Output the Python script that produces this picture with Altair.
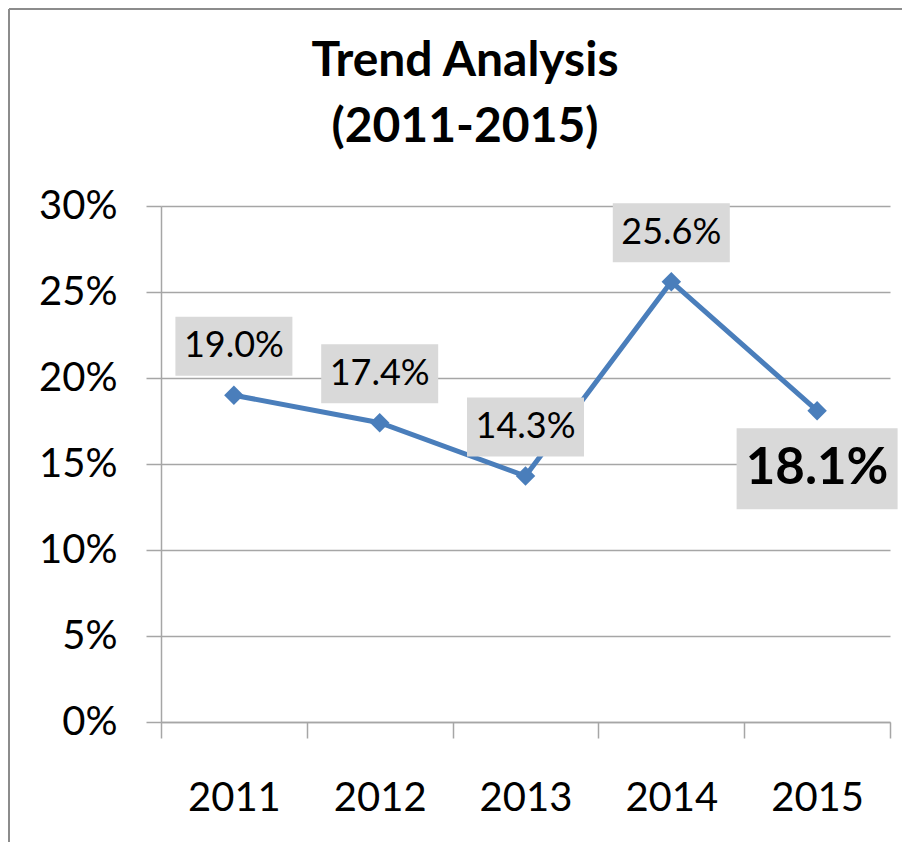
import altair as alt
import pandas as pd

years = ["2011", "2012", "2013", "2014", "2015"]
rates = [0.190, 0.174, 0.143, 0.256, 0.181]
y_ticks = [0, 0.05, 0.10, 0.15, 0.20, 0.25, 0.30]
title_lines = ["Trend Analysis", "(2011-2015)"]
highlight_year = "2015"

df = pd.DataFrame({"year": years, "rate": rates})

FONT = "Lato"
BLUE = "#4a7ebb"
GRID = "#a6a6a6"
BOX = "#d9d9d9"

x = alt.X(
    "year:N", sort=years,
    scale=alt.Scale(paddingInner=0, paddingOuter=0),
    axis=alt.Axis(title=None, labelAngle=0, labelFontSize=40, labelFont=FONT,
                  labelColor="black", tickBand="extent", tickSize=16,
                  tickColor=GRID, tickWidth=1.5, domainColor=GRID,
                  domainWidth=1.5, labelPadding=40, grid=False),
)
y = alt.Y(
    "rate:Q",
    scale=alt.Scale(domain=[0, 0.3]),
    axis=alt.Axis(title=None, values=y_ticks, format=".0%", labelFontSize=40,
                  labelFont=FONT, labelColor="black", tickSize=15,
                  tickColor=GRID, tickWidth=1.5, domainColor=GRID,
                  domainWidth=1.5, gridColor=GRID, gridWidth=1.5,
                  labelPadding=29),
)

base = alt.Chart(df).encode(x=x, y=y)
line = base.mark_line(color=BLUE, strokeWidth=5)
pts = base.mark_point(shape="diamond", filled=True, color=BLUE, size=380, opacity=1)

normal = base.transform_filter(alt.datum.year != highlight_year)
boxes = normal.mark_point(shape="M-1,-0.5043H1V0.5043H-1Z", size=13689, filled=True,
                          color=BOX, strokeWidth=0, opacity=1, yOffset=-49)
labels = normal.mark_text(font=FONT, fontSize=36, color="black", yOffset=-49,
                          baseline="middle").encode(text=alt.Text("rate:Q", format=".1%"))

hl = base.transform_filter(alt.datum.year == highlight_year)
hbox = hl.mark_point(shape="M-1,-0.5031H1V0.5031H-1Z", size=25921, filled=True,
                     color=BOX, strokeWidth=0, opacity=1, yOffset=58)
hlabel = hl.mark_text(font=FONT, fontSize=51, fontWeight="bold", color="black",
                      yOffset=58, baseline="middle").encode(text=alt.Text("rate:Q", format=".1%"))

one = pd.DataFrame({"k": [0]})
border_top = alt.Chart(one).mark_rule(color="#8c8c8c", strokeWidth=2).encode(
    x=alt.value(-152), x2=alt.value(760), y=alt.value(-197))
border_left = alt.Chart(one).mark_rule(color="#8c8c8c", strokeWidth=2).encode(
    x=alt.value(-152), y=alt.value(-197), y2=alt.value(700))

chart = alt.layer(border_top, border_left, line, pts, boxes, labels, hbox, hlabel).properties(
    width=729, height=516,
    title=alt.Title(title_lines, fontSize=48, font=FONT, fontWeight="bold",
                    lineHeight=66, color="black", anchor="middle", frame="bounds",
                    offset=-144),
    autosize=alt.AutoSizeParams(type="none"),
    padding={"left": 153, "top": 198, "right": 12, "bottom": 120},
).configure_view(stroke=None)

chart.save("out.html", embed_options={"renderer": "svg", "actions": False})
